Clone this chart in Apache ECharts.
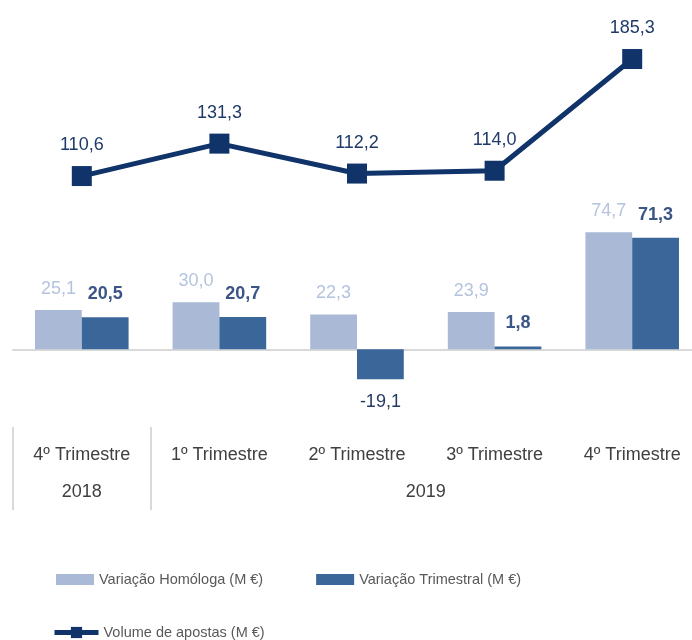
<!DOCTYPE html>
<html>
<head>
<meta charset="utf-8">
<script src="https://cdn.jsdelivr.net/npm/echarts@6/dist/echarts.min.js"></script>
<style>
  html, body { margin: 0; padding: 0; background: #fff; }
  #chart { width: 692px; height: 640px; }
</style>
</head>
<body>
<div id="chart"></div>
<script>
  const categories = ['4º Trimestre', '1º Trimestre', '2º Trimestre', '3º Trimestre', '4º Trimestre'];
  const years = ['2018', '2019'];
  const quartersPerYear = [1, 4];
  const homologa = [25.1, 30.0, 22.3, 23.9, 74.7];
  const trimestral = [20.5, 20.7, -19.1, 1.8, 71.3];
  const volume = [110.6, 131.3, 112.2, 114.0, 185.3];

  const FONT = '"Liberation Sans", Arial, sans-serif';
  const fmt = p => p.value.toFixed(1).replace('.', ',');

  // year boundaries and centres on a 0..n scale that matches the category bands
  const bounds = [0];
  quartersPerYear.forEach(n => bounds.push(bounds[bounds.length - 1] + n));
  const centres = years.map((y, i) => (bounds[i] + bounds[i + 1]) / 2);

  const chart = echarts.init(document.getElementById('chart'));
  chart.setOption({
    animation: false,
    textStyle: { fontFamily: FONT },
    // the last band runs past the right edge, as in the original picture
    grid: {
      left: 13, width: 688, top: 36, bottom: 228,
      containLabel: false, outerBoundsMode: 'none'
    },
    legend: [{
      data: ['Variação Homóloga (M €)', 'Variação Trimestral (M €)'],
      left: 51, top: 567,
      icon: 'rect',
      itemWidth: 38, itemHeight: 11, itemGap: 53,
      textStyle: { fontSize: 14.5, color: '#595959', fontFamily: FONT }
    }, {
      data: ['Volume de apostas (M €)'],
      left: 47, top: 620,
      itemWidth: 44, itemHeight: 14,
      lineStyle: { width: 5 },
      textStyle: { fontSize: 14.5, color: '#595959', fontFamily: FONT }
    }],
    xAxis: [{
      type: 'category',
      data: categories,
      axisLine: { onZero: true, lineStyle: { color: '#d9d9d9', width: 2 } },
      axisTick: { show: false },
      axisLabel: { show: false }
    }, {
      type: 'category',
      data: categories,
      position: 'bottom',
      axisLine: { show: false, onZero: false },
      axisTick: { show: false },
      axisLabel: { margin: 34, fontSize: 18, color: '#404040', fontFamily: FONT }
    }, {
      type: 'value',
      min: 0, max: categories.length,
      position: 'bottom',
      offset: 15,
      splitLine: { show: false },
      axisLine: { show: false, onZero: false },
      axisTick: {
        show: true, customValues: bounds, length: 83,
        lineStyle: { color: '#d9d9d9', width: 2 }
      },
      axisLabel: {
        customValues: centres, margin: 56, fontSize: 18, color: '#404040', fontFamily: FONT,
        formatter: v => years[centres.indexOf(v)] || ''
      }
    }],
    yAxis: { type: 'value', min: -40, max: 200, show: false },
    series: [{
      name: 'Variação Homóloga (M €)',
      type: 'bar',
      barGap: 0,
      barCategoryGap: '32%',
      itemStyle: { color: '#a9b9d6' },
      label: {
        show: true, position: 'top', distance: 12, formatter: fmt,
        fontSize: 18, color: '#b4c3de', fontFamily: FONT
      },
      data: homologa
    }, {
      name: 'Variação Trimestral (M €)',
      type: 'bar',
      itemStyle: { color: '#3a6699' },
      label: {
        show: true, position: 'top', distance: 14, formatter: fmt,
        fontSize: 18, color: '#3b5586', fontWeight: 'bold', fontFamily: FONT
      },
      data: trimestral.map(v => v < 0
        ? { value: v, label: { position: 'bottom', fontWeight: 'normal', color: '#243a63' } }
        : v)
    }, {
      name: 'Volume de apostas (M €)',
      type: 'line',
      symbol: 'rect',
      symbolSize: 20,
      lineStyle: { color: '#10346a', width: 5 },
      itemStyle: { color: '#10346a' },
      label: {
        show: true, position: 'top', distance: 12, formatter: fmt,
        fontSize: 18, color: '#1f3a68', fontWeight: 500, fontFamily: FONT
      },
      data: volume
    }]
  });
</script>
</body>
</html>
